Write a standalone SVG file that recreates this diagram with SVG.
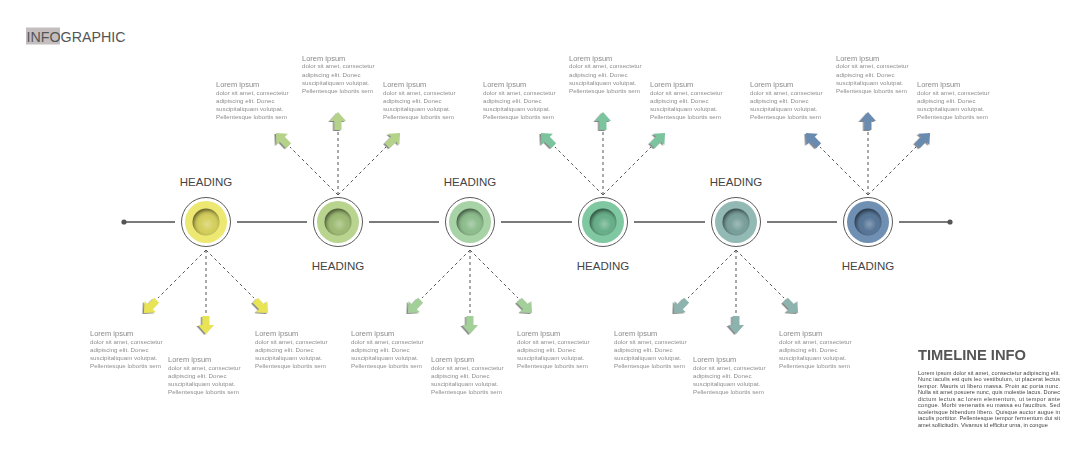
<svg xmlns="http://www.w3.org/2000/svg" width="1080" height="450" viewBox="0 0 1080 450">
<style>
text{font-family:"Liberation Sans",Arial,sans-serif}
.ring{fill:#fff;stroke:#5a5a5a;stroke-width:1}
.hd{font-size:11.5px;fill:#444;text-anchor:middle}
.lt{font-size:7.5px;fill:#8a8a8a}
.lb{font-size:6.2px;fill:#8e8e8e}
.dash{stroke:#555;stroke-width:1;stroke-dasharray:3 3;fill:none}
.line{stroke:#7a7a7a;stroke-width:2;fill:none}
.p{font-size:5.6px;fill:#444}
</style>
<defs>
<radialGradient id="hole" cx="0.55" cy="0.58" r="0.55">
<stop offset="0" stop-color="#fff" stop-opacity="0.3"/>
<stop offset="0.5" stop-color="#fff" stop-opacity="0"/>
<stop offset="0.82" stop-color="#000" stop-opacity="0.15"/>
<stop offset="1" stop-color="#000" stop-opacity="0.45"/>
</radialGradient>
<filter id="sh" x="-50%" y="-50%" width="200%" height="200%">
<feDropShadow dx="-1.5" dy="1" stdDeviation="0.7" flood-color="#333" flood-opacity="0.6"/>
</filter>
<path id="arr" d="M0,-10 L8,-1 L3.5,-1 L3.5,8 L-3.5,8 L-3.5,-1 L-8,-1 Z"/>
</defs>
<rect width="1080" height="450" fill="#fff"/>

<g id="title">
<rect x="26" y="27.5" width="34" height="17" fill="#c4bebe"/>
<text x="26.5" y="41.7" font-size="15" fill="#555" textLength="99" lengthAdjust="spacingAndGlyphs">INFOGRAPHIC</text>
</g>

<g id="connectors">
<path class="line" d="M124,222H175M237,222H307M369,222H439M501,222H572M634,222H705M767,222H837M899,222H950"/>
<circle cx="124" cy="222" r="2.6" fill="#555"/>
<circle cx="950" cy="222" r="2.6" fill="#555"/>
<path class="dash" d="M206,250V314M206,250L158,298M206,250L254,298"/>
<path class="dash" d="M338,195V132M338,195L290,147M338,195L386,147"/>
<path class="dash" d="M470,250V314M470,250L422,298M470,250L518,298"/>
<path class="dash" d="M603,195V132M603,195L555,147M603,195L651,147"/>
<path class="dash" d="M736,250V314M736,250L688,298M736,250L784,298"/>
<path class="dash" d="M868,195V132M868,195L820,147M868,195L916,147"/>
</g>

<g id="node1">
<circle class="ring" cx="206" cy="222" r="24.5"/>
<circle cx="206" cy="222" r="21" fill="#ede872"/>
<circle cx="206" cy="222" r="13.5" fill="#d4ce5a"/>
<circle cx="206" cy="222" r="13.5" fill="url(#hole)"/>
<text class="hd" x="206" y="185.5">HEADING</text>
</g>
<g id="node2">
<circle class="ring" cx="338" cy="222" r="24.5"/>
<circle cx="338" cy="222" r="21" fill="#b8d48f"/>
<circle cx="338" cy="222" r="13.5" fill="#9cba72"/>
<circle cx="338" cy="222" r="13.5" fill="url(#hole)"/>
<text class="hd" x="338" y="269.5">HEADING</text>
</g>
<g id="node3">
<circle class="ring" cx="470" cy="222" r="24.5"/>
<circle cx="470" cy="222" r="21" fill="#a8d3a6"/>
<circle cx="470" cy="222" r="13.5" fill="#8cbc8c"/>
<circle cx="470" cy="222" r="13.5" fill="url(#hole)"/>
<text class="hd" x="470" y="185.5">HEADING</text>
</g>
<g id="node4">
<circle class="ring" cx="603" cy="222" r="24.5"/>
<circle cx="603" cy="222" r="21" fill="#80c8a2"/>
<circle cx="603" cy="222" r="13.5" fill="#66ae88"/>
<circle cx="603" cy="222" r="13.5" fill="url(#hole)"/>
<text class="hd" x="603" y="269.5">HEADING</text>
</g>
<g id="node5">
<circle class="ring" cx="736" cy="222" r="24.5"/>
<circle cx="736" cy="222" r="21" fill="#93b9b4"/>
<circle cx="736" cy="222" r="13.5" fill="#789f9a"/>
<circle cx="736" cy="222" r="13.5" fill="url(#hole)"/>
<text class="hd" x="736" y="185.5">HEADING</text>
</g>
<g id="node6">
<circle class="ring" cx="868" cy="222" r="24.5"/>
<circle cx="868" cy="222" r="21" fill="#6f8fb3"/>
<circle cx="868" cy="222" r="13.5" fill="#557496"/>
<circle cx="868" cy="222" r="13.5" fill="url(#hole)"/>
<text class="hd" x="868" y="269.5">HEADING</text>
</g>

<g id="arrows" filter="url(#sh)">
<use href="#arr" fill="#e8e456" transform="translate(206,324) rotate(180)"/>
<use href="#arr" fill="#e8e456" transform="translate(151,306) rotate(-135)"/>
<use href="#arr" fill="#e8e456" transform="translate(261,306) rotate(135)"/>
<use href="#arr" fill="#b4d28a" transform="translate(338,122)"/>
<use href="#arr" fill="#b4d28a" transform="translate(283,140) rotate(-45)"/>
<use href="#arr" fill="#b4d28a" transform="translate(393,140) rotate(45)"/>
<use href="#arr" fill="#a3cf98" transform="translate(470,324) rotate(180)"/>
<use href="#arr" fill="#a3cf98" transform="translate(415,306) rotate(-135)"/>
<use href="#arr" fill="#a3cf98" transform="translate(525,306) rotate(135)"/>
<use href="#arr" fill="#7cc49e" transform="translate(603,122)"/>
<use href="#arr" fill="#7cc49e" transform="translate(548,140) rotate(-45)"/>
<use href="#arr" fill="#7cc49e" transform="translate(658,140) rotate(45)"/>
<use href="#arr" fill="#8cb3ad" transform="translate(736,324) rotate(180)"/>
<use href="#arr" fill="#8cb3ad" transform="translate(681,306) rotate(-135)"/>
<use href="#arr" fill="#8cb3ad" transform="translate(791,306) rotate(135)"/>
<use href="#arr" fill="#6a8bb0" transform="translate(868,122)"/>
<use href="#arr" fill="#6a8bb0" transform="translate(813,140) rotate(-45)"/>
<use href="#arr" fill="#6a8bb0" transform="translate(923,140) rotate(45)"/>
</g>

<g id="labels">
<text x="90" y="336"><tspan class="lt">Lorem ipsum</tspan><tspan class="lb" x="90" dy="7.8">dolor sit amet, consectetur</tspan><tspan class="lb" x="90" dy="8.2">adipiscing elit. Donec</tspan><tspan class="lb" x="90" dy="8.2">suscipitaliquam volutpat.</tspan><tspan class="lb" x="90" dy="8.2">Pellentesque lobortis sem</tspan></text>
<text x="168" y="362"><tspan class="lt">Lorem ipsum</tspan><tspan class="lb" x="168" dy="7.8">dolor sit amet, consectetur</tspan><tspan class="lb" x="168" dy="8.2">adipiscing elit. Donec</tspan><tspan class="lb" x="168" dy="8.2">suscipitaliquam volutpat.</tspan><tspan class="lb" x="168" dy="8.2">Pellentesque lobortis sem</tspan></text>
<text x="255" y="336"><tspan class="lt">Lorem ipsum</tspan><tspan class="lb" x="255" dy="7.8">dolor sit amet, consectetur</tspan><tspan class="lb" x="255" dy="8.2">adipiscing elit. Donec</tspan><tspan class="lb" x="255" dy="8.2">suscipitaliquam volutpat.</tspan><tspan class="lb" x="255" dy="8.2">Pellentesque lobortis sem</tspan></text>

<text x="216" y="87"><tspan class="lt">Lorem ipsum</tspan><tspan class="lb" x="216" dy="7.8">dolor sit amet, consectetur</tspan><tspan class="lb" x="216" dy="8.2">adipiscing elit. Donec</tspan><tspan class="lb" x="216" dy="8.2">suscipitaliquam volutpat.</tspan><tspan class="lb" x="216" dy="8.2">Pellentesque lobortis sem</tspan></text>
<text x="302" y="60.5"><tspan class="lt">Lorem ipsum</tspan><tspan class="lb" x="302" dy="7.8">dolor sit amet, consectetur</tspan><tspan class="lb" x="302" dy="8.2">adipiscing elit. Donec</tspan><tspan class="lb" x="302" dy="8.2">suscipitaliquam volutpat.</tspan><tspan class="lb" x="302" dy="8.2">Pellentesque lobortis sem</tspan></text>
<text x="383" y="87"><tspan class="lt">Lorem ipsum</tspan><tspan class="lb" x="383" dy="7.8">dolor sit amet, consectetur</tspan><tspan class="lb" x="383" dy="8.2">adipiscing elit. Donec</tspan><tspan class="lb" x="383" dy="8.2">suscipitaliquam volutpat.</tspan><tspan class="lb" x="383" dy="8.2">Pellentesque lobortis sem</tspan></text>

<text x="351" y="336"><tspan class="lt">Lorem ipsum</tspan><tspan class="lb" x="351" dy="7.8">dolor sit amet, consectetur</tspan><tspan class="lb" x="351" dy="8.2">adipiscing elit. Donec</tspan><tspan class="lb" x="351" dy="8.2">suscipitaliquam volutpat.</tspan><tspan class="lb" x="351" dy="8.2">Pellentesque lobortis sem</tspan></text>
<text x="431" y="362"><tspan class="lt">Lorem ipsum</tspan><tspan class="lb" x="431" dy="7.8">dolor sit amet, consectetur</tspan><tspan class="lb" x="431" dy="8.2">adipiscing elit. Donec</tspan><tspan class="lb" x="431" dy="8.2">suscipitaliquam volutpat.</tspan><tspan class="lb" x="431" dy="8.2">Pellentesque lobortis sem</tspan></text>
<text x="517" y="336"><tspan class="lt">Lorem ipsum</tspan><tspan class="lb" x="517" dy="7.8">dolor sit amet, consectetur</tspan><tspan class="lb" x="517" dy="8.2">adipiscing elit. Donec</tspan><tspan class="lb" x="517" dy="8.2">suscipitaliquam volutpat.</tspan><tspan class="lb" x="517" dy="8.2">Pellentesque lobortis sem</tspan></text>

<text x="483" y="87"><tspan class="lt">Lorem ipsum</tspan><tspan class="lb" x="483" dy="7.8">dolor sit amet, consectetur</tspan><tspan class="lb" x="483" dy="8.2">adipiscing elit. Donec</tspan><tspan class="lb" x="483" dy="8.2">suscipitaliquam volutpat.</tspan><tspan class="lb" x="483" dy="8.2">Pellentesque lobortis sem</tspan></text>
<text x="569" y="60.5"><tspan class="lt">Lorem ipsum</tspan><tspan class="lb" x="569" dy="7.8">dolor sit amet, consectetur</tspan><tspan class="lb" x="569" dy="8.2">adipiscing elit. Donec</tspan><tspan class="lb" x="569" dy="8.2">suscipitaliquam volutpat.</tspan><tspan class="lb" x="569" dy="8.2">Pellentesque lobortis sem</tspan></text>
<text x="650" y="87"><tspan class="lt">Lorem ipsum</tspan><tspan class="lb" x="650" dy="7.8">dolor sit amet, consectetur</tspan><tspan class="lb" x="650" dy="8.2">adipiscing elit. Donec</tspan><tspan class="lb" x="650" dy="8.2">suscipitaliquam volutpat.</tspan><tspan class="lb" x="650" dy="8.2">Pellentesque lobortis sem</tspan></text>

<text x="614" y="336"><tspan class="lt">Lorem ipsum</tspan><tspan class="lb" x="614" dy="7.8">dolor sit amet, consectetur</tspan><tspan class="lb" x="614" dy="8.2">adipiscing elit. Donec</tspan><tspan class="lb" x="614" dy="8.2">suscipitaliquam volutpat.</tspan><tspan class="lb" x="614" dy="8.2">Pellentesque lobortis sem</tspan></text>
<text x="693" y="362"><tspan class="lt">Lorem ipsum</tspan><tspan class="lb" x="693" dy="7.8">dolor sit amet, consectetur</tspan><tspan class="lb" x="693" dy="8.2">adipiscing elit. Donec</tspan><tspan class="lb" x="693" dy="8.2">suscipitaliquam volutpat.</tspan><tspan class="lb" x="693" dy="8.2">Pellentesque lobortis sem</tspan></text>
<text x="779" y="336"><tspan class="lt">Lorem ipsum</tspan><tspan class="lb" x="779" dy="7.8">dolor sit amet, consectetur</tspan><tspan class="lb" x="779" dy="8.2">adipiscing elit. Donec</tspan><tspan class="lb" x="779" dy="8.2">suscipitaliquam volutpat.</tspan><tspan class="lb" x="779" dy="8.2">Pellentesque lobortis sem</tspan></text>

<text x="750" y="87"><tspan class="lt">Lorem ipsum</tspan><tspan class="lb" x="750" dy="7.8">dolor sit amet, consectetur</tspan><tspan class="lb" x="750" dy="8.2">adipiscing elit. Donec</tspan><tspan class="lb" x="750" dy="8.2">suscipitaliquam volutpat.</tspan><tspan class="lb" x="750" dy="8.2">Pellentesque lobortis sem</tspan></text>
<text x="836" y="60.5"><tspan class="lt">Lorem ipsum</tspan><tspan class="lb" x="836" dy="7.8">dolor sit amet, consectetur</tspan><tspan class="lb" x="836" dy="8.2">adipiscing elit. Donec</tspan><tspan class="lb" x="836" dy="8.2">suscipitaliquam volutpat.</tspan><tspan class="lb" x="836" dy="8.2">Pellentesque lobortis sem</tspan></text>
<text x="917" y="87"><tspan class="lt">Lorem ipsum</tspan><tspan class="lb" x="917" dy="7.8">dolor sit amet, consectetur</tspan><tspan class="lb" x="917" dy="8.2">adipiscing elit. Donec</tspan><tspan class="lb" x="917" dy="8.2">suscipitaliquam volutpat.</tspan><tspan class="lb" x="917" dy="8.2">Pellentesque lobortis sem</tspan></text>
</g>

<g id="timeline-info">
<text x="918" y="360" font-size="14.5" font-weight="bold" fill="#555" textLength="108" lengthAdjust="spacingAndGlyphs">TIMELINE INFO</text>
<text class="p" x="918" y="374.5" textLength="142">Lorem ipsum dolor sit amet, consectetur adipiscing elit.</text>
<text class="p" x="918" y="381" textLength="142">Nunc iaculis est quis leo vestibulum, ut placerat lectus</text>
<text class="p" x="918" y="387.5" textLength="142">tempor. Mauris ut libero massa. Proin ac porta nunc.</text>
<text class="p" x="918" y="394" textLength="142">Nulla sit amet posuere nunc, quis molestie lacus. Donec</text>
<text class="p" x="918" y="400.5" textLength="142">dictum lectus ac lorem elementum, ut tempor ante</text>
<text class="p" x="918" y="407" textLength="142">congue. Morbi venenatis eu massa eu faucibus. Sed</text>
<text class="p" x="918" y="413.5" textLength="142">scelerisque bibendum libero. Quisque auctor augue in</text>
<text class="p" x="918" y="420" textLength="142">iaculis porttitor. Pellentesque tempor fermentum dui sit</text>
<text class="p" x="918" y="426.5">amet sollicitudin. Vivamus id efficitur urna, in congue</text>
</g>
</svg>
